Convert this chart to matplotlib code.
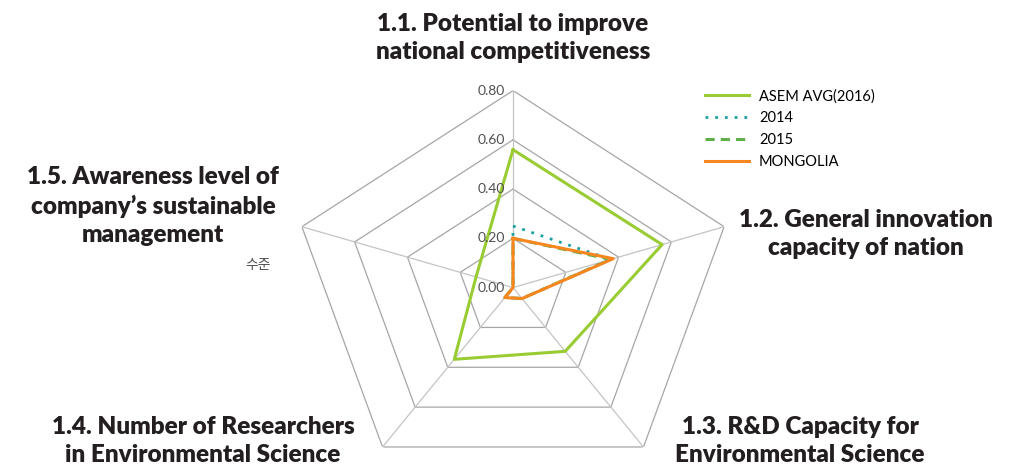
import numpy as np
import matplotlib
matplotlib.use("Agg")
from matplotlib import pyplot as plt

plt.rcParams['font.family'] = ['Lato', 'Noto Sans CJK KR', 'DejaVu Sans']

categories = ["1.1. Potential to improve\nnational competitiveness",
              "1.2. General innovation\ncapacity of nation",
              "1.3. R&D Capacity for\nEnvironmental Science",
              "1.4. Number of Researchers\nin Environmental Science",
              "1.5. Awareness level of\ncompany\u2019s sustainable\nmanagement"]

asem_avg = [0.56, 0.565, 0.32, 0.36, 0.14]
y2014 = [0.25, 0.37, 0.055, 0.05, 0.0]
y2015 = [0.20, 0.37, 0.055, 0.05, 0.0]
mongolia = [0.20, 0.38, 0.055, 0.05, 0.0]

levels = [0.0, 0.2, 0.4, 0.6, 0.8]
level_labels = ["0.00", "0.20", "0.40", "0.60", "0.80"]

fig = plt.figure(figsize=(10.16, 4.73), dpi=100)
# horizontally stretched radar, like the source picture
ax = fig.add_axes([291/1016, -0.0245, 444/1016, 394/473], projection='polar')
ax.set_aspect('auto')
ax.set_theta_offset(np.pi/2)
ax.set_theta_direction(-1)
ax.set_ylim(0, 0.8)
ax.grid(False)
ax.spines['polar'].set_visible(False)
ax.set_xticks([])
ax.set_yticks([])
ax.patch.set_visible(False)

n = len(categories)
ang = np.linspace(0, 2*np.pi, n, endpoint=False)
ang_c = np.append(ang, ang[0])

def closed(v):
    return np.append(v, v[0])

for lv in levels[1:]:
    ax.plot(ang_c, [lv]*(n+1), color='#a6a6a6', lw=0.9, zorder=1)
for a in ang:
    ax.plot([a, a], [0, 0.8], color='#c4c4c4', lw=0.9, zorder=1)

l1, = ax.plot(ang_c, closed(asem_avg), color='#99cc33', lw=2.2, zorder=3,
              label='ASEM AVG(2016)')
l2, = ax.plot(ang_c, closed(y2014), color='#17a2a0', lw=2.0, ls=(0, (1, 2.5)),
              zorder=4, label='2014')
l3, = ax.plot(ang_c, closed(y2015), color='#5fae46', lw=2.2, ls=(0, (3, 2)),
              zorder=5, label='2015')
l4, = ax.plot(ang_c, closed(mongolia), color='#f7861e', lw=2.2, zorder=6,
              label='MONGOLIA')

for lv, lab in zip(levels, level_labels):
    ax.annotate(lab, xy=(0, lv), xytext=(-6, 0), textcoords='offset points',
                ha='right', va='center', fontsize=10, color='#505050',
                zorder=7, annotation_clip=False)

fig.legend(handles=[l1, l2, l3, l4], loc='upper left',
           bbox_to_anchor=(702/1016, 1 - 86/473), frameon=False,
           fontsize=10.5, handlelength=3.0, labelspacing=0.55, handletextpad=0.7,
           borderaxespad=0, borderpad=0.2)

lab_pos = [(513, 38), (866, 234), (800, 441), (203, 441), (153, 206)]
for txt, (px, py) in zip(categories, lab_pos):
    fig.text(px/1016, 1 - py/473, txt, ha='center', va='center',
             fontsize=17.5, fontweight='heavy', color='#231f20', linespacing=1.33)

fig.text(258/1016, 1 - 265/473, "수준", ha='center', va='center',
         fontsize=10, color='#505050', family=['Noto Sans CJK KR', 'DejaVu Sans'])

fig.savefig("out.png", dpi=100)
